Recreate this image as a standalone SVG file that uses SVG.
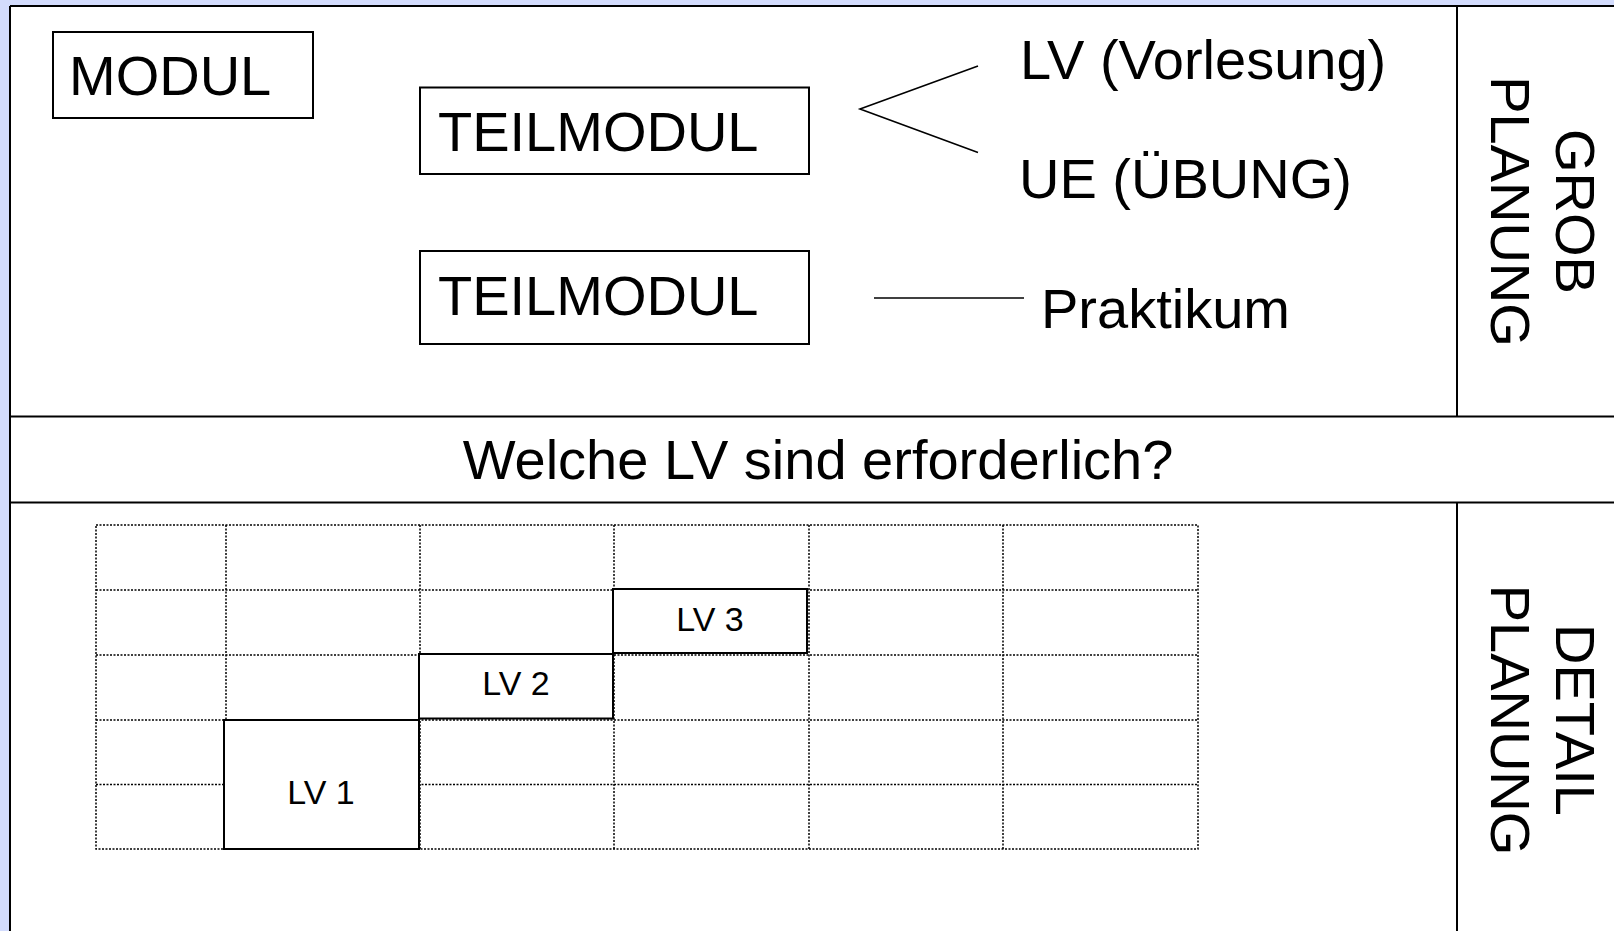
<svg xmlns="http://www.w3.org/2000/svg" width="1614" height="931" viewBox="0 0 1614 931">
<style>
.t{font-family:"Liberation Sans",Arial,sans-serif;fill:#000}
.big{font-size:56px}
.mid{font-size:56px}
.sm{font-size:34px}
.box{fill:#fff;stroke:#000;stroke-width:2}
.frame{stroke:#000;stroke-width:2;fill:none}
.grid{stroke:#000;stroke-width:1.5;stroke-dasharray:2 1.5;fill:none}
.con{stroke:#000;stroke-width:1.6;fill:none}
</style>
<rect x="0" y="0" width="1614" height="931" fill="#d3dcfd"/>
<rect x="10" y="6" width="1614" height="940" fill="#fff"/>
<g id="frame">
<line class="frame" x1="10" y1="6" x2="1614" y2="6"/>
<line class="frame" x1="10" y1="6" x2="10" y2="931"/>
<line class="frame" x1="10" y1="416.5" x2="1614" y2="416.5"/>
<line class="frame" x1="10" y1="502.5" x2="1614" y2="502.5"/>
<line class="frame" x1="1457" y1="6" x2="1457" y2="416.5"/>
<line class="frame" x1="1457" y1="502.5" x2="1457" y2="931"/>
</g>
<g id="modul">
<rect class="box" x="53" y="32" width="260" height="86"/>
<text class="t mid" x="69" y="95">MODUL</text>
</g>
<g id="teilmodul1">
<rect class="box" x="420" y="87.5" width="389" height="86.5"/>
<text class="t mid" x="438" y="150.5">TEILMODUL</text>
</g>
<g id="teilmodul2">
<rect class="box" x="420" y="251" width="389" height="93"/>
<text class="t mid" x="438" y="315">TEILMODUL</text>
</g>
<g id="lv-vorlesung">
<text class="t big" x="1020" y="79">LV (Vorlesung)</text>
</g>
<g id="ue-uebung">
<text class="t big" x="1019" y="198">UE (ÜBUNG)</text>
</g>
<g id="praktikum">
<text class="t big" x="1041" y="328">Praktikum</text>
</g>
<g id="grobplanung">
<text class="t big" transform="translate(1556,211.5) rotate(90)" text-anchor="middle">GROB</text>
<text class="t big" transform="translate(1490.5,211.5) rotate(90)" text-anchor="middle">PLANUNG</text>
</g>
<g id="frage">
<text class="t big" x="818" y="478.5" text-anchor="middle">Welche LV sind erforderlich?</text>
</g>
<g id="detailplanung">
<text class="t big" transform="translate(1556,720) rotate(90)" text-anchor="middle">DETAIL</text>
<text class="t big" transform="translate(1490.5,720) rotate(90)" text-anchor="middle">PLANUNG</text>
</g>
<g id="grid">
<rect class="grid" x="96" y="525" width="1102" height="324"/>
<line class="grid" x1="96" y1="590" x2="1198" y2="590"/>
<line class="grid" x1="96" y1="655" x2="1198" y2="655"/>
<line class="grid" x1="96" y1="720" x2="1198" y2="720"/>
<line class="grid" x1="96" y1="784.5" x2="1198" y2="784.5"/>
<line class="grid" x1="226" y1="525" x2="226" y2="849"/>
<line class="grid" x1="420" y1="525" x2="420" y2="849"/>
<line class="grid" x1="614" y1="525" x2="614" y2="849"/>
<line class="grid" x1="809" y1="525" x2="809" y2="849"/>
<line class="grid" x1="1003" y1="525" x2="1003" y2="849"/>
</g>
<g id="lv1">
<rect class="box" x="224" y="720" width="195" height="129"/>
<text class="t sm" x="321" y="804" text-anchor="middle">LV 1</text>
</g>
<g id="lv2">
<rect class="box" x="419" y="654" width="194" height="64.5"/>
<text class="t sm" x="516" y="695" text-anchor="middle">LV 2</text>
</g>
<g id="lv3">
<rect class="box" x="613" y="589" width="194" height="64"/>
<text class="t sm" x="710" y="631" text-anchor="middle">LV 3</text>
</g>
<g id="connectors">
<polyline class="con" points="978,66 860,109 978,152.5"/>
<line class="con" x1="874" y1="298" x2="1024" y2="298"/>
</g>
</svg>
